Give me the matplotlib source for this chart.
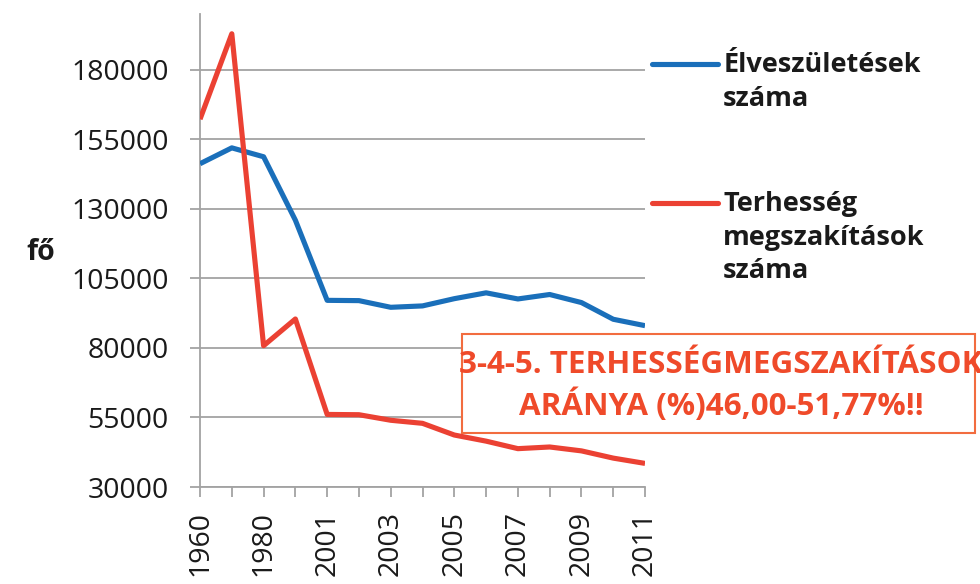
import matplotlib
matplotlib.use("Agg")
import matplotlib.pyplot as plt
from matplotlib.lines import Line2D
from matplotlib.patches import Rectangle

# Data
YEARS = ["1960", "1970", "1980", "1990", "2001", "2002", "2003", "2004",
         "2005", "2006", "2007", "2008", "2009", "2010", "2011"]
LIVE_BIRTHS = [146200, 151900, 148700, 125900, 97100, 97000, 94600, 95100,
               97700, 99800, 97600, 99200, 96300, 90300, 88000]
ABORTIONS = [162200, 192900, 80800, 90400, 56100, 56000, 54000, 52900,
             48700, 46500, 43800, 44400, 43000, 40400, 38500]
SERIES_LABELS = ["Élveszületések\nszáma", "Terhesség\nmegszakítások\nszáma"]
Y_TICKS = [30000, 55000, 80000, 105000, 130000, 155000, 180000]
Y_LABEL = "fő"
NOTE = "3-4-5. TERHESSÉGMEGSZAKÍTÁSOK\nARÁNYA (%)46,00-51,77%!!"

BLUE = "#1a6fba"
RED = "#eb4133"
NOTE_RED = "#ef4a2a"
BOX_EDGE = "#f26c3f"
GRID = "#a3a3a3"
FONT_SIZE = 20.5

plt.rcParams["font.family"] = ["Open Sans", "DejaVu Sans"]

fig = plt.figure(figsize=(9.8, 5.84), dpi=100)
ax = fig.add_axes([0.2041, 0.166, 0.4541, 0.810])

x = list(range(len(YEARS)))
ax.plot(x, LIVE_BIRTHS, color=BLUE, lw=3.7, solid_joinstyle="round",
        solid_capstyle="butt", zorder=3)
ax.plot(x, ABORTIONS, color=RED, lw=3.7, solid_joinstyle="round",
        solid_capstyle="butt", zorder=3)

ax.set_xlim(0, len(YEARS) - 1)
ax.set_ylim(30000, 200000)
ax.set_yticks(Y_TICKS)
ax.set_yticklabels([str(v) for v in Y_TICKS])
ax.set_xticks(x)
# only every other year gets a label, as in the original
ax.set_xticklabels([y if i % 2 == 0 else "" for i, y in enumerate(YEARS)],
                   rotation=90)
ax.yaxis.grid(True, color=GRID, lw=1.3)
ax.set_axisbelow(True)

for side in ("top", "right"):
    ax.spines[side].set_visible(False)
for side in ("left", "bottom"):
    ax.spines[side].set_color(GRID)
    ax.spines[side].set_linewidth(1.3)
ax.tick_params(axis="both", colors=GRID, length=7.5, width=1.3,
               labelsize=FONT_SIZE, labelcolor="#1a1a1a")
ax.tick_params(axis="y", pad=15)
ax.tick_params(axis="x", pad=10)

fig.text(0.027, 0.567, Y_LABEL, fontsize=FONT_SIZE, fontweight="bold",
         ha="left", va="center", color="#1a1a1a")

# manual legend to the right of the plot
legend_rows = [(0.8904, BLUE, SERIES_LABELS[0]),
               (0.6524, RED, SERIES_LABELS[1])]
for y, color, label in legend_rows:
    fig.add_artist(Line2D([0.665, 0.733], [y, y], color=color, lw=3.7,
                          solid_capstyle="round"))
    fig.text(0.738, y + 0.02, label, fontsize=19.5, fontweight="bold",
             ha="left", va="top", linespacing=1.36, color="#1a1a1a")

# annotation box (text runs past the right edge, like the original slide)
fig.add_artist(Rectangle((0.4714, 0.2586), 0.5235, 0.1695,
                         transform=fig.transFigure, facecolor="white",
                         edgecolor=BOX_EDGE, lw=1.5, zorder=4))
fig.text(0.7357, 0.339, NOTE, fontsize=22.6, fontweight="bold",
         color=NOTE_RED, ha="center", va="center", multialignment="center",
         linespacing=1.3, zorder=5)

fig.savefig("out.png", dpi=100)
